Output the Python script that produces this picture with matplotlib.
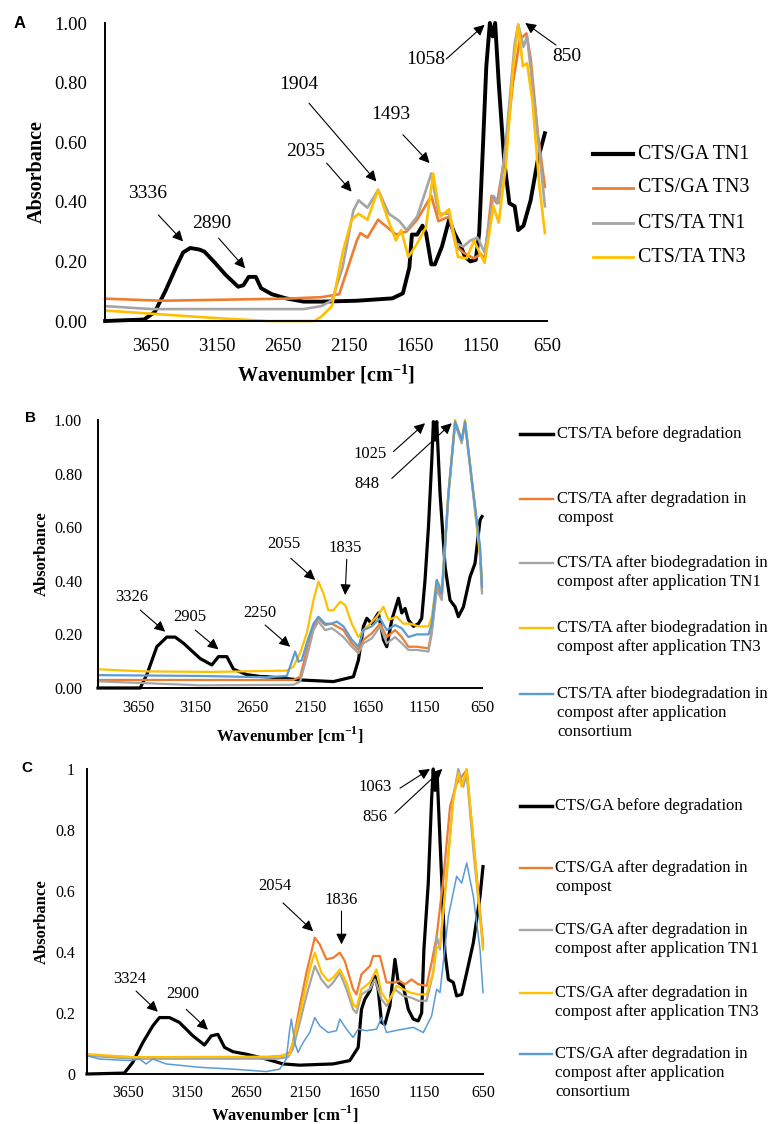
import matplotlib
matplotlib.use('Agg')
import matplotlib.pyplot as plt
from matplotlib.lines import Line2D

plt.rcParams['font.family'] = 'Liberation Serif'
plt.rcParams['mathtext.fontset'] = 'custom'
plt.rcParams['mathtext.rm'] = 'Liberation Serif'
plt.rcParams['mathtext.bf'] = 'Liberation Serif:bold'

# ---- data (wavenumber cm-1, absorbance) ----
# panel A
a_tn1_ga_wn = [3999, 3704, 3623, 3543, 3462, 3408, 3354, 3287, 3247, 3166, 3086, 2991, 2951, 2911, 2857, 2817,
               2736, 2629, 2494, 2360, 2091, 1822, 1742, 1693, 1674, 1634, 1594, 1567, 1527, 1500, 1446, 1392,
               1352, 1311, 1271, 1231, 1190, 1164, 1137, 1110, 1083, 1062, 1043, 1016, 975, 935, 895, 868, 828,
               774, 720, 666]
a_tn1_ga_ab = [0.0, 0.005, 0.03, 0.10, 0.18, 0.23, 0.245, 0.24, 0.233, 0.195, 0.155, 0.115, 0.12, 0.148, 0.148, 0.11,
               0.09, 0.076, 0.065, 0.065, 0.068, 0.076, 0.093, 0.18, 0.29, 0.29, 0.32, 0.295, 0.19, 0.19, 0.25, 0.34,
               0.295, 0.26, 0.215, 0.20, 0.205, 0.295, 0.57, 0.855, 1.0, 0.955, 1.0, 0.80, 0.54, 0.395, 0.385, 0.305,
               0.32, 0.405, 0.54, 0.63]
a_tn3_ga_wn = [3999, 3569, 2629, 2360, 2290, 2225, 2158, 2091, 2064, 2011, 1930, 1876, 1795, 1715, 1634, 1527, 1473,
               1392, 1338, 1284, 1204, 1150, 1123, 1070, 1029, 962, 908, 855, 806, 774, 720, 666]
a_tn3_ga_ab = [0.075, 0.068, 0.075, 0.08, 0.085, 0.09, 0.18, 0.27, 0.295, 0.28, 0.34, 0.32, 0.29, 0.30, 0.34, 0.42,
               0.335, 0.35, 0.25, 0.23, 0.21, 0.225, 0.205, 0.42, 0.395, 0.575, 0.80, 0.945, 0.965, 0.88, 0.63, 0.45]
a_tn1_ta_wn = [3999, 3650, 2494, 2360, 2279, 2199, 2118, 2078, 2011, 1930, 1849, 1768, 1715, 1634, 1527, 1473, 1392,
               1338, 1284, 1231, 1177, 1123, 1056, 1016, 962, 895, 868, 828, 801, 747, 666]
a_tn1_ta_ab = [0.05, 0.04, 0.04, 0.05, 0.07, 0.18, 0.37, 0.405, 0.38, 0.44, 0.36, 0.335, 0.305, 0.35, 0.495, 0.36,
               0.36, 0.26, 0.25, 0.27, 0.28, 0.23, 0.42, 0.395, 0.60, 0.93, 0.995, 0.92, 0.955, 0.74, 0.385]
a_tn3_ta_wn = [3999, 3166, 2763, 2414, 2360, 2279, 2199, 2131, 2078, 2011, 1930, 1863, 1795, 1755, 1701, 1634, 1567,
               1513, 1459, 1392, 1325, 1258, 1204, 1123, 1056, 1016, 962, 908, 868, 833, 801, 761, 707, 666]
a_tn3_ta_ab = [0.035, 0.01, 0.0, 0.0, 0.015, 0.05, 0.23, 0.34, 0.36, 0.34, 0.44, 0.35, 0.27, 0.305, 0.215, 0.26,
               0.315, 0.495, 0.35, 0.375, 0.215, 0.21, 0.27, 0.195, 0.385, 0.33, 0.52, 0.845, 0.995, 0.855, 0.865,
               0.74, 0.45, 0.295]

# panel B
b_before_wn = [4000, 3632, 3574, 3487, 3400, 3327, 3254, 3109, 3007, 2949, 2876, 2818, 2702, 2586, 2527, 2237, 1946,
               1772, 1728, 1684, 1655, 1612, 1554, 1510, 1481, 1437, 1379, 1350, 1321, 1292, 1248, 1205, 1176, 1147,
               1117, 1088, 1074, 1059, 1045, 1016, 972, 929, 885, 856, 812, 754, 711, 667, 650]
b_before_ab = [0.0, 0.0, 0.05, 0.154, 0.19, 0.19, 0.167, 0.11, 0.086, 0.117, 0.117, 0.07, 0.05, 0.043, 0.042, 0.03,
               0.024, 0.042, 0.104, 0.23, 0.26, 0.24, 0.28, 0.18, 0.154, 0.254, 0.335, 0.28, 0.297, 0.254, 0.23, 0.24,
               0.26, 0.403, 0.602, 0.85, 0.994, 0.925, 0.994, 0.726, 0.453, 0.328, 0.303, 0.266, 0.303, 0.415, 0.465,
               0.627, 0.64]
b_compost_wn = [4000, 2295, 2237, 2179, 2120, 2077, 2019, 1961, 1917, 1859, 1786, 1728, 1684, 1612, 1539, 1481, 1408,
                1350, 1292, 1219, 1117, 1088, 1045, 1001, 943, 885, 827, 798, 725, 667, 650]
b_compost_ab = [0.03, 0.03, 0.042, 0.14, 0.23, 0.26, 0.235, 0.24, 0.23, 0.216, 0.167, 0.142, 0.18, 0.204, 0.24, 0.19,
                0.216, 0.19, 0.154, 0.154, 0.148, 0.216, 0.378, 0.34, 0.726, 0.988, 0.92, 0.988, 0.726, 0.515, 0.363]
b_tn1_wn = [4000, 3109, 2295, 2237, 2179, 2120, 2077, 2019, 1961, 1917, 1859, 1786, 1728, 1684, 1612, 1539, 1481,
            1408, 1350, 1292, 1219, 1117, 1088, 1045, 1001, 943, 885, 827, 798, 725, 667, 650]
b_tn1_ab = [0.025, 0.01, 0.012, 0.024, 0.114, 0.216, 0.248, 0.216, 0.223, 0.21, 0.19, 0.154, 0.13, 0.167, 0.185, 0.23,
            0.167, 0.19, 0.167, 0.142, 0.142, 0.136, 0.204, 0.366, 0.328, 0.714, 0.988, 0.913, 0.988, 0.714, 0.49,
            0.353]
b_tn3_wn = [4000, 3600, 3000, 2353, 2295, 2237, 2179, 2120, 2077, 2033, 1990, 1946, 1888, 1844, 1786, 1728, 1684,
            1626, 1568, 1510, 1466, 1394, 1336, 1277, 1205, 1117, 1088, 1045, 1001, 943, 885, 827, 798, 725, 667, 650]
b_tn3_ab = [0.07, 0.062, 0.06, 0.065, 0.08, 0.13, 0.204, 0.328, 0.397, 0.353, 0.29, 0.29, 0.322, 0.31, 0.24, 0.19,
            0.216, 0.24, 0.266, 0.303, 0.254, 0.266, 0.24, 0.24, 0.23, 0.23, 0.266, 0.403, 0.366, 0.726, 1.0, 0.925,
            1.0, 0.726, 0.5, 0.415]
b_cons_wn = [4000, 3109, 2527, 2353, 2324, 2280, 2251, 2222, 2179, 2120, 2077, 2019, 1961, 1917, 1859, 1786, 1728,
             1684, 1612, 1539, 1481, 1408, 1350, 1292, 1219, 1117, 1088, 1045, 1001, 943, 885, 827, 798, 725, 667, 650]
b_cons_ab = [0.048, 0.045, 0.04, 0.045, 0.08, 0.136, 0.098, 0.104, 0.167, 0.24, 0.266, 0.24, 0.24, 0.248, 0.23, 0.18,
             0.154, 0.216, 0.23, 0.26, 0.216, 0.235, 0.223, 0.19, 0.2, 0.2, 0.24, 0.403, 0.353, 0.726, 0.994, 0.925,
             0.994, 0.726, 0.527, 0.378]

# panel C
c_before_wn = [4000, 3684, 3613, 3528, 3443, 3387, 3302, 3218, 3104, 3006, 2949, 2893, 2836, 2765, 2653, 2483, 2342,
               2200, 1918, 1777, 1706, 1678, 1650, 1607, 1565, 1537, 1508, 1480, 1438, 1395, 1367, 1325, 1282, 1240,
               1198, 1169, 1150, 1113, 1085, 1071, 1056, 1037, 1008, 972, 943, 901, 873, 830, 788, 732, 675, 650]
c_before_ab = [0.0, 0.003, 0.038, 0.103, 0.158, 0.185, 0.185, 0.169, 0.125, 0.095, 0.125, 0.13, 0.087, 0.073, 0.065,
               0.049, 0.033, 0.029, 0.033, 0.044, 0.087, 0.212, 0.245, 0.272, 0.321, 0.278, 0.169, 0.163, 0.223, 0.376,
               0.30, 0.289, 0.212, 0.18, 0.174, 0.20, 0.408, 0.626, 0.90, 1.0, 0.93, 0.975, 0.714, 0.398, 0.31, 0.30,
               0.256, 0.261, 0.332, 0.43, 0.583, 0.68]
c_compost_wn = [4000, 3600, 2483, 2342, 2285, 2258, 2200, 2144, 2073, 2031, 1975, 1918, 1861, 1819, 1749, 1720, 1678,
                1607, 1579, 1522, 1466, 1395, 1353, 1311, 1254, 1198, 1127, 1085, 1042, 986, 929, 873, 830, 788, 732,
                650]
c_compost_ab = [0.06, 0.055, 0.055, 0.06, 0.071, 0.103, 0.223, 0.332, 0.447, 0.425, 0.376, 0.381, 0.398, 0.37, 0.278,
                0.261, 0.327, 0.354, 0.387, 0.387, 0.30, 0.30, 0.305, 0.294, 0.31, 0.294, 0.289, 0.365, 0.452, 0.637,
                0.877, 0.953, 0.975, 0.997, 0.768, 0.43]
c_tn1_wn = [4000, 3600, 2400, 2300, 2258, 2200, 2144, 2073, 2017, 1960, 1918, 1861, 1805, 1749, 1720, 1678, 1607,
            1565, 1508, 1466, 1395, 1325, 1254, 1198, 1127, 1071, 1042, 1014, 957, 901, 859, 816, 788, 732, 650]
c_tn1_ab = [0.06, 0.05, 0.05, 0.055, 0.082, 0.169, 0.256, 0.354, 0.31, 0.283, 0.30, 0.332, 0.278, 0.212, 0.20, 0.261,
            0.278, 0.31, 0.245, 0.223, 0.278, 0.256, 0.25, 0.24, 0.24, 0.332, 0.452, 0.408, 0.659, 0.91, 1.0, 0.942,
            0.986, 0.735, 0.42]
c_tn3_wn = [4000, 3600, 2400, 2285, 2229, 2172, 2116, 2073, 2017, 1960, 1918, 1861, 1805, 1749, 1720, 1678, 1607,
            1551, 1508, 1452, 1381, 1325, 1268, 1198, 1127, 1071, 1042, 1014, 957, 901, 859, 830, 788, 732, 650]
c_tn3_ab = [0.065, 0.055, 0.057, 0.065, 0.147, 0.245, 0.343, 0.398, 0.332, 0.305, 0.316, 0.343, 0.30, 0.229, 0.218,
            0.278, 0.30, 0.343, 0.267, 0.234, 0.289, 0.278, 0.267, 0.261, 0.261, 0.332, 0.414, 0.42, 0.648, 0.90,
            0.986, 0.942, 1.0, 0.768, 0.408]
c_cons_wn = [4000, 3896, 3641, 3557, 3500, 3443, 3331, 3048, 2765, 2483, 2370, 2314, 2285, 2271, 2243, 2215, 2172,
             2116, 2073, 2031, 1960, 1890, 1861, 1805, 1749, 1706, 1636, 1551, 1508, 1466, 1395, 1325, 1240, 1155,
             1085, 1042, 1014, 943, 873, 830, 788, 732, 675, 650]
c_cons_ab = [0.06, 0.049, 0.044, 0.049, 0.033, 0.049, 0.033, 0.022, 0.016, 0.008, 0.016, 0.049, 0.147, 0.18, 0.103,
             0.071, 0.103, 0.136, 0.185, 0.158, 0.136, 0.142, 0.18, 0.147, 0.12, 0.147, 0.142, 0.147, 0.185, 0.136,
             0.142, 0.147, 0.153, 0.136, 0.19, 0.278, 0.267, 0.517, 0.648, 0.626, 0.692, 0.583, 0.408, 0.267]

a_labels = ['CTS/GA TN1', 'CTS/GA TN3', 'CTS/TA TN1', 'CTS/TA TN3']
b_labels = ['CTS/TA before degradation',
            'CTS/TA after degradation in\ncompost',
            'CTS/TA after biodegradation in\ncompost after application TN1',
            'CTS/TA after biodegradation in\ncompost after application TN3',
            'CTS/TA after biodegradation in\ncompost after application\nconsortium']
c_labels = ['CTS/GA before degradation',
            'CTS/GA after degradation in\ncompost',
            'CTS/GA after degradation in\ncompost after application TN1',
            'CTS/GA after degradation in\ncompost after application TN3',
            'CTS/GA after degradation in\ncompost after application\nconsortium']
x_ticks = [3650, 3150, 2650, 2150, 1650, 1150, 650]
y_ticks = [0, 0.2, 0.4, 0.6, 0.8, 1.0]

BLACK, ORANGE, GRAY, YELLOW, BLUE = '#000000', '#ED7D31', '#A5A5A5', '#FFC000', '#5B9BD5'

W, H = 772, 1124
fig = plt.figure(figsize=(W / 100, H / 100), dpi=100)


def px_axes(l, t, r, b):
    return fig.add_axes([l / W, 1 - b / H, (r - l) / W, (b - t) / H])


def style_axes(ax, fs, padx, pady, yfmt, lab_fs, xlab_y, ylab_x):
    ax.set_xlim(4000, 650)
    ax.set_ylim(0, 1.0)
    ax.set_xticks(x_ticks)
    ax.set_yticks(y_ticks)
    ax.set_yticklabels([yfmt(v) for v in y_ticks])
    for s in ['top', 'right']:
        ax.spines[s].set_visible(False)
    for s in ['left', 'bottom']:
        ax.spines[s].set_linewidth(1.4)
    ax.tick_params(axis='both', length=0, labelsize=fs)
    ax.tick_params(axis='x', pad=padx)
    ax.tick_params(axis='y', pad=pady)
    ax.set_xlabel(r'Wavenumber [cm$^{\mathbf{-1}}$]', fontsize=lab_fs, fontweight='bold')
    ax.set_ylabel('Absorbance', fontsize=lab_fs, fontweight='bold')
    ax.xaxis.set_label_coords(0.5, xlab_y)
    ax.yaxis.set_label_coords(ylab_x, 0.5)


def annotate(ax, items, fs):
    for lab, txy, tail, head in items:
        ax.text(txy[0], txy[1], lab, ha='center', va='center', fontsize=fs, clip_on=False)
        ax.annotate('', xy=head, xytext=tail, annotation_clip=False,
                    arrowprops=dict(arrowstyle='-|>', color='black', lw=0.8,
                                    shrinkA=0, shrinkB=0, mutation_scale=16))


def legend(labels, colors, widths, x0, x1, xt, ys, fs, ls):
    for lab, c, lw, y in zip(labels, colors, widths, ys):
        fig.add_artist(Line2D([x0 / W, x1 / W], [1 - y / H, 1 - y / H], color=c, lw=lw,
                              transform=fig.transFigure))
        for i, line in enumerate(lab.split('\n')):
            fig.text(xt / W, 1 - (y + i * ls) / H, line, ha='left', va='center', fontsize=fs)


# ---------------- panel A ----------------
ax = px_axes(105, 23, 547, 321)
ax.plot(a_tn1_ga_wn, a_tn1_ga_ab, color=BLACK, lw=2.8, clip_on=False)
ax.plot(a_tn3_ga_wn, a_tn3_ga_ab, color=ORANGE, lw=1.9, clip_on=False)
ax.plot(a_tn1_ta_wn, a_tn1_ta_ab, color=GRAY, lw=1.9, clip_on=False)
ax.plot(a_tn3_ta_wn, a_tn3_ta_ab, color=YELLOW, lw=1.9, clip_on=False)
style_axes(ax, 13.5, 12, 13, lambda v: '%.2f' % v, 14.5, -0.138, -0.131)
annotate(ax, [('3336', (3677, 0.429), (3596, 0.356), (3408, 0.267)),
              ('2890', (3193, 0.328), (3139, 0.278), (2938, 0.177)),
              ('2035', (2481, 0.569), (2320, 0.53), (2131, 0.434)),
              ('1904', (2535, 0.793), (2454, 0.731), (1943, 0.468)),
              ('1493', (1836, 0.692), (1742, 0.625), (1540, 0.53)),
              ('1058', (1567, 0.877), (1414, 0.879), (1123, 0.994)),
              ('850', (498, 0.886), (582, 0.926), (815, 1.0))], 14)
legend(a_labels, [BLACK, ORANGE, GRAY, YELLOW], [3.0, 2.0, 2.0, 2.0],
       593, 633, 638, [154, 188, 223, 257], 14.4, 0)
fig.text(20 / W, 1 - 23 / H, 'A', family='Liberation Sans', fontweight='bold', fontsize=12,
         ha='center', va='center')

# ---------------- panel B ----------------
ax = px_axes(98, 420, 482, 688)
ax.plot(b_before_wn, b_before_ab, color=BLACK, lw=2.3, clip_on=False)
ax.plot(b_compost_wn, b_compost_ab, color=ORANGE, lw=1.6, clip_on=False)
ax.plot(b_tn1_wn, b_tn1_ab, color=GRAY, lw=1.6, clip_on=False)
ax.plot(b_tn3_wn, b_tn3_ab, color=YELLOW, lw=1.6, clip_on=False)
ax.plot(b_cons_wn, b_cons_ab, color=BLUE, lw=1.6, clip_on=False)
style_axes(ax, 11.6, 8.5, 11.5, lambda v: '%.2f' % v, 12, -0.138, -0.125)
annotate(ax, [('3326', (3705, 0.338), (3632, 0.291), (3414, 0.21)),
              ('2905', (3196, 0.266), (3152, 0.216), (2949, 0.144)),
              ('2250', (2591, 0.279), (2542, 0.235), (2324, 0.154)),
              ('2055', (2382, 0.536), (2318, 0.484), (2106, 0.403)),
              ('1835', (1844, 0.521), (1830, 0.48), (1844, 0.347)),
              ('1025', (1626, 0.873), (1423, 0.882), (1147, 0.988)),
              ('848', (1655, 0.761), (1437, 0.782), (914, 0.988))], 12)
legend(b_labels, [BLACK, ORANGE, GRAY, YELLOW, BLUE], [2.5, 1.7, 1.7, 1.7, 1.7],
       520, 553, 557, [434, 499, 563, 628, 694], 12, 19)
fig.text(30 / W, 1 - 418 / H, 'B', family='Liberation Sans', fontweight='bold', fontsize=11,
         ha='center', va='center')

# ---------------- panel C ----------------
ax = px_axes(87, 769, 483, 1074)
ax.plot(c_before_wn, c_before_ab, color=BLACK, lw=2.3, clip_on=False)
ax.plot(c_compost_wn, c_compost_ab, color=ORANGE, lw=1.6, clip_on=False)
ax.plot(c_tn1_wn, c_tn1_ab, color=GRAY, lw=1.6, clip_on=False)
ax.plot(c_tn3_wn, c_tn3_ab, color=YELLOW, lw=1.6, clip_on=False)
ax.plot(c_cons_wn, c_cons_ab, color=BLUE, lw=1.1, clip_on=False)
style_axes(ax, 11.5, 8, 8.6, lambda v: '%g' % v, 12, -0.096, -0.093)
annotate(ax, [('3324', (3641, 0.31), (3585, 0.272), (3401, 0.204)),
              ('2900', (3189, 0.261), (3161, 0.212), (2977, 0.145)),
              ('2054', (2412, 0.615), (2342, 0.561), (2087, 0.468)),
              ('1836', (1847, 0.57), (1847, 0.534), (1847, 0.425)),
              ('1063', (1565, 0.942), (1353, 0.937), (1099, 1.0)),
              ('856', (1565, 0.842), (1395, 0.855), (994, 1.0))], 12)
legend(c_labels, [BLACK, ORANGE, GRAY, YELLOW, BLUE], [2.5, 1.7, 1.7, 1.7, 1.7],
       520, 552, 555, [806, 868, 930, 993, 1054], 12, 19)
fig.text(27 / W, 1 - 768 / H, 'C', family='Liberation Sans', fontweight='bold', fontsize=11,
         ha='center', va='center')

fig.savefig('out.png', dpi=100)
